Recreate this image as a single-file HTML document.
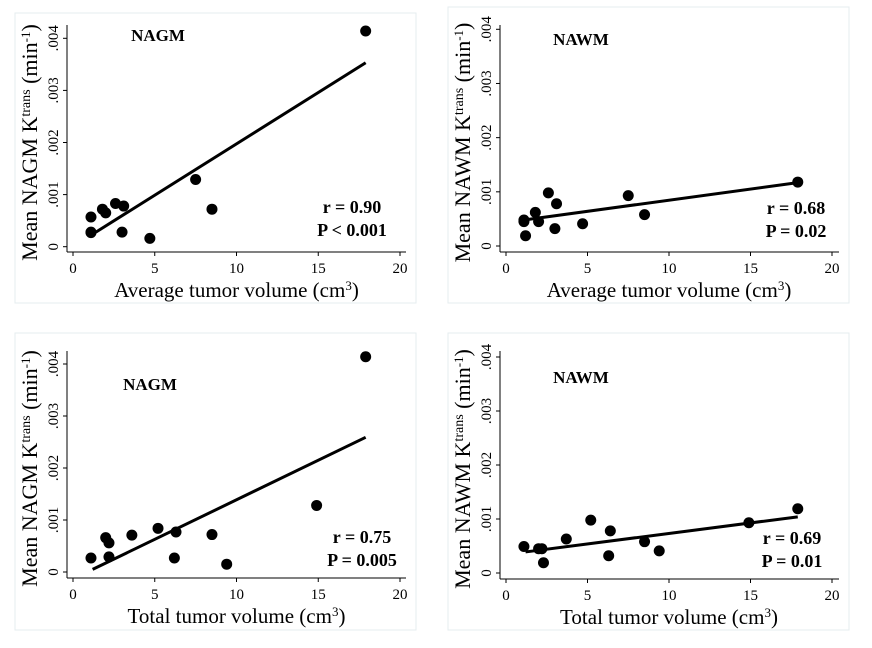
<!DOCTYPE html>
<html><head><meta charset="utf-8"><style>
html,body{margin:0;padding:0;background:#fff;width:872px;height:648px;overflow:hidden}
svg{display:block;font-family:"Liberation Serif",serif}
</style></head><body>
<svg id="fig" width="872" height="648"></svg>
<script>
// Panel A: NAGM vs average tumor volume
const avgNagmX=[1.1,1.1,1.1,1.8,2.0,2.6,3.1,3.0,4.7,7.5,8.5,17.9];
const avgNagmY=[0.00057,0.00027,0.00028,0.00072,0.00065,0.00083,0.00078,0.00028,0.00016,0.00129,0.00072,0.00414];
const avgNagmFit=[[1.4,0.00028],[17.9,0.00353]];
// Panel B: NAWM vs average tumor volume
const avgNawmX=[1.1,1.1,1.2,1.8,2.0,2.6,3.1,3.0,4.7,7.5,8.5,17.9];
const avgNawmY=[0.00048,0.00045,0.00019,0.00062,0.00045,0.00098,0.00078,0.00032,0.00041,0.00093,0.00058,0.00118];
const avgNawmFit=[[1.1,0.00048],[17.9,0.00117]];
// Panel C: NAGM vs total tumor volume
const totNagmX=[1.1,2.0,2.2,2.2,3.6,5.2,6.3,6.2,8.5,9.4,14.9,17.9];
const totNagmY=[0.00027,0.00066,0.00056,0.00029,0.00071,0.00084,0.00077,0.00027,0.00072,0.00015,0.00128,0.00414];
const totNagmFit=[[1.2,0.00005],[17.9,0.00259]];
// Panel D: NAWM vs total tumor volume
const totNawmX=[1.1,2.0,2.2,2.3,3.7,5.2,6.4,6.3,8.5,9.4,14.9,17.9];
const totNawmY=[0.00049,0.00045,0.00045,0.00019,0.00063,0.00098,0.00078,0.00032,0.00058,0.00041,0.00093,0.00119];
const totNawmFit=[[1.2,0.00039],[17.9,0.00104]];
const xTicks=[0,5,10,15,20];
const yTicks=[0,0.001,0.002,0.003,0.004];
const yTickLabels=["0",".001",".002",".003",".004"];

const NS="http://www.w3.org/2000/svg";
const svg=document.getElementById('fig');
function mk(tag,attrs,parent){const e=document.createElementNS(NS,tag);for(const k in attrs)e.setAttribute(k,attrs[k]);(parent||svg).appendChild(e);return e;}

function panel(id,g,xs,ys,fit,label,r,p,xtitle,ytitleRegion){
  const grp=mk('g',{});
  
  
  const fx=v=>g.x0+(g.x20-g.x0)*v/20;
  const fy=v=>g.y0-(g.y0-g.y4)*v/0.004;
  const fr=mk('rect',{x:g.fl,y:g.ft,width:g.fw,height:g.fh,fill:'#fff',stroke:'#e6ecef','stroke-width':1},grp);
  
  
  const ya=mk('line',{x1:g.ax,y1:g.atop,x2:g.ax,y2:g.ay,stroke:'#000','stroke-width':1},grp);
  
  
  const xa=mk('line',{x1:g.ax,y1:g.ay,x2:g.aright,y2:g.ay,stroke:'#000','stroke-width':1},grp);
  
  
  xTicks.forEach(t=>{
    mk('line',{x1:fx(t),y1:g.ay,x2:fx(t),y2:g.ay+4,stroke:'#000'},grp);
    const tl=mk('text',{x:fx(t),y:g.ay+21,'font-size':15,'text-anchor':'middle'},grp);
    tl.textContent=t;
    
    
  });
  yTicks.forEach((t,i)=>{
    mk('line',{x1:g.ax,y1:fy(t),x2:g.ax-4,y2:fy(t),stroke:'#000'},grp);
    const tl=mk('text',{x:0,y:0,'font-size':15,'text-anchor':'middle',transform:`translate(${g.ax-9},${fy(t)}) rotate(-90)`},grp);
    tl.textContent=yTickLabels[i];
    
    
  });
  const xt=mk('text',{x:(g.x0+g.x20)/2,y:g.ay+45,'font-size':21,'text-anchor':'middle'},grp);
  xt.innerHTML=xtitle+' (cm<tspan baseline-shift="super" font-size="13">3</tspan>)';
  
  
  const yt=mk('text',{x:0,y:0,'font-size':22,'text-anchor':'middle',transform:`translate(${g.ax-30},${(g.atop+g.ay)/2+4}) rotate(-90)`},grp);
  yt.innerHTML='Mean '+ytitleRegion+' K<tspan baseline-shift="super" font-size="14">trans</tspan> (min<tspan baseline-shift="super" font-size="13">-1</tspan>)';
  
  
  const lb=mk('text',{x:g.lx,y:g.ly,'font-size':17,'font-weight':'bold','text-anchor':'middle'},grp);
  lb.textContent=label;
  
  
  const rt=mk('text',{x:g.sx,y:g.sy,'font-size':18,'font-weight':'bold','text-anchor':'middle'},grp);
  rt.textContent=r;
  
  
  const pt=mk('text',{x:g.sx,y:g.sy+23,'font-size':18,'font-weight':'bold','text-anchor':'middle'},grp);
  pt.textContent=p;
  
  
  const fl=mk('line',{x1:fx(fit[0][0]),y1:fy(fit[0][1]),x2:fx(fit[1][0]),y2:fy(fit[1][1]),stroke:'#000','stroke-width':3},grp);
  
  
  xs.forEach((x,i)=>{
    const c=mk('circle',{cx:fx(x),cy:fy(ys[i]),r:5.5,fill:'#000'},grp);
    
    
  });
}
panel('avg-nagm',{fl:15,ft:13,fw:401,fh:290,ax:67,atop:25,ay:252,aright:406,x0:73,x20:400,y0:246.7,y4:38.3,lx:158,ly:41,sx:352,sy:213},
  avgNagmX,avgNagmY,avgNagmFit,'NAGM','r = 0.90','P < 0.001','Average tumor volume','NAGM');
panel('avg-nawm',{fl:448,ft:7,fw:401,fh:296,ax:500,atop:25,ay:252,aright:839,x0:506,x20:832,y0:246,y4:29.3,lx:581,ly:45,sx:796,sy:214},
  avgNawmX,avgNawmY,avgNawmFit,'NAWM','r = 0.68','P = 0.02','Average tumor volume','NAWM');
panel('tot-nagm',{fl:15,ft:333,fw:401,fh:297,ax:67,atop:351,ay:578,aright:406,x0:73,x20:400,y0:572,y4:364,lx:150,ly:390,sx:362,sy:543},
  totNagmX,totNagmY,totNagmFit,'NAGM','r = 0.75','P = 0.005','Total tumor volume','NAGM');
panel('tot-nawm',{fl:448,ft:333,fw:401,fh:297,ax:500,atop:351,ay:579,aright:839,x0:506,x20:832,y0:573,y4:357,lx:581,ly:383,sx:792,sy:544},
  totNawmX,totNawmY,totNawmFit,'NAWM','r = 0.69','P = 0.01','Total tumor volume','NAWM');
</script>
</body></html>
